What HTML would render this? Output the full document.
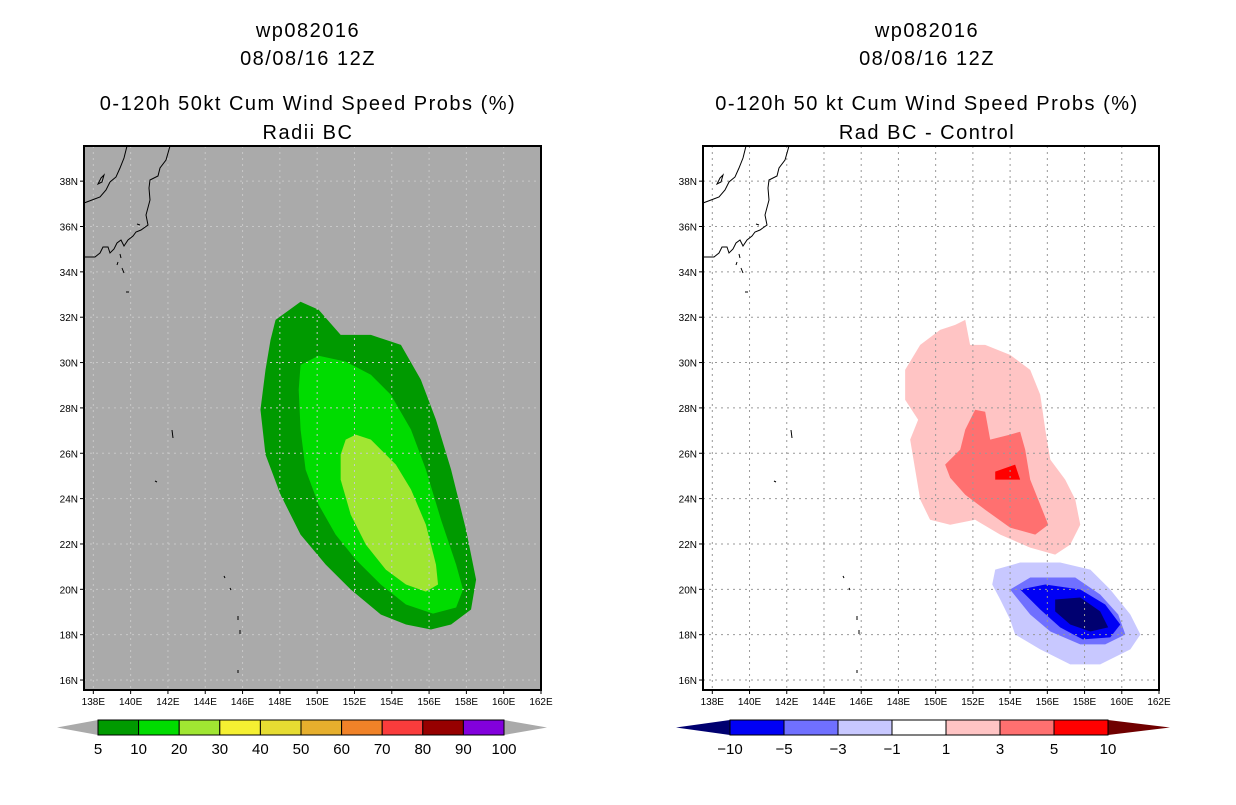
<!DOCTYPE html>
<html><head><meta charset="utf-8"><style>
body{margin:0;background:#fff;width:1236px;height:800px;overflow:hidden;font-family:"Liberation Sans",sans-serif}
svg text{font-family:"Liberation Sans",sans-serif}
</style></head><body>
<svg id="s" width="1236" height="800" xmlns="http://www.w3.org/2000/svg">
<g font-size="20" text-anchor="middle" fill="#000" letter-spacing="1.5">
<text x="308" y="37">wp082016</text>
<text x="308" y="65">08/08/16 12Z</text>
<text x="308" y="110">0-120h 50kt Cum Wind Speed Probs (%)</text>
<text x="308" y="139">Radii BC</text>
<text x="927" y="37">wp082016</text>
<text x="927" y="65">08/08/16 12Z</text>
<text x="927" y="110">0-120h 50 kt Cum Wind Speed Probs (%)</text>
<text x="927" y="139">Rad BC - Control</text>
</g>
</svg>
<script>
const NS='http://www.w3.org/2000/svg';
const svg=document.getElementById('s');
const lonTicks=[138,140,142,144,146,148,150,152,154,156,158,160,162];
const latTicks=[16,18,20,22,24,26,28,30,32,34,36,38];
const lonMin=137.5,lonMax=162,latMin=15.56,latMax=39.55;
const prob5=[[147.77,31.88],[149.11,32.68],[150.08,32.33],[151.26,31.22],[152.88,31.22],[154.49,30.78],[155.56,29.24],[156.37,27.48],[157.18,25.28],[157.98,22.63],[158.52,20.43],[158.25,19.11],[157.18,18.45],[156.1,18.23],[154.76,18.45],[153.41,18.89],[151.8,19.99],[150.46,21.09],[149.11,22.41],[148.04,24.17],[147.23,25.94],[146.96,27.92],[147.23,29.68],[147.5,31.0]];
const prob10=[[149.11,29.9],[150.08,30.3],[151.53,30.04],[152.88,29.46],[153.95,28.58],[155.03,27.04],[155.83,25.28],[156.64,23.07],[157.45,21.09],[157.82,19.99],[157.45,19.2],[156.21,18.93],[154.76,19.33],[153.41,20.21],[152.07,21.31],[150.99,22.41],[150.08,23.73],[149.38,25.28],[149.11,27.04],[149.01,28.8]];
const prob20=[[151.53,26.6],[152.07,26.82],[152.88,26.6],[154.22,25.5],[155.03,24.4],[155.83,22.85],[156.37,21.09],[156.48,20.21],[155.83,19.9],[154.76,20.21],[153.68,20.87],[152.61,21.97],[151.8,23.29],[151.26,24.84],[151.26,25.94]];
const diffP1=[[149.17,30.78],[150.24,31.44],[151.05,31.66],[151.59,31.88],[151.85,30.78],[152.66,30.78],[154.0,30.34],[155.08,29.68],[155.62,28.58],[155.89,27.04],[156.16,25.72],[156.96,24.84],[157.5,23.96],[157.77,22.85],[157.23,21.97],[156.42,21.53],[155.08,21.84],[153.47,22.41],[152.12,23.07],[150.78,22.85],[149.7,23.07],[149.17,23.96],[148.9,25.28],[148.63,26.6],[149.06,27.48],[148.36,28.36],[148.36,29.68]];
const diffP3=[[152.12,27.92],[152.66,27.83],[152.93,26.6],[154.0,26.82],[154.54,26.95],[154.81,26.16],[155.08,24.84],[155.62,23.73],[156.05,22.85],[155.35,22.41],[154.0,22.72],[152.66,23.51],[151.59,24.17],[150.78,24.92],[150.51,25.5],[151.32,26.16],[151.59,27.04]];
const diffP5=[[153.2,25.19],[154.27,25.5],[154.54,24.84],[153.2,24.84]];
const diffM1=[[153.2,20.87],[154.54,21.18],[156.69,21.18],[158.31,20.87],[159.38,19.99],[160.46,18.89],[161.0,18.01],[160.46,17.35],[158.84,16.69],[157.23,16.69],[155.62,17.35],[154.27,18.01],[154.0,18.67],[153.47,19.55],[153.04,20.21]];
const diffM3=[[154.0,19.99],[155.08,20.52],[157.5,20.52],[158.84,19.77],[159.81,18.89],[160.19,18.01],[159.11,17.57],[157.77,17.57],[156.16,18.14],[155.08,18.89]];
const diffM5=[[154.54,19.99],[155.89,20.21],[157.77,19.99],[159.11,19.33],[159.92,18.45],[159.38,17.88],[157.9,17.79],[156.69,18.32],[155.62,19.11]];
const diffM10=[[156.42,19.55],[157.77,19.64],[158.84,19.03],[159.27,18.32],[158.31,18.14],[157.23,18.45],[156.42,19.03]];
const leftLevels=['5','10','20','30','40','50','60','70','80','90','100'];
const leftColors=['#009a00','#00dc00','#a0e632','#f5f032','#e6dc32','#e6af2d','#f08228','#fa3c3c','#960000','#8200dc'];
const rightLevels=['-10','-5','-3','-1','1','3','5','10'];
const rightColors=['#0000f5','#7070ff','#c8c8ff','#ffffff','#ffc4c4','#ff7070','#ff0000'];

function mk(t,a,p){const e=document.createElementNS(NS,t);for(const k in a)e.setAttribute(k,a[k]);(p||svg).appendChild(e);return e;}
function panel(x0,y0,x1,y1,bg){
  const sx=l=>x0+(l-lonMin)/(lonMax-lonMin)*(x1-x0);
  const sy=l=>y1-(l-latMin)/(latMax-latMin)*(y1-y0);
  const g=mk('g',{});
  mk('rect',{x:x0,y:y0,width:x1-x0,height:y1-y0,fill:bg},g);
  return {g,sx,sy,x0,y0,x1,y1};
}
function poly(P,pts,fill,name){
  const e=mk('polygon',{points:pts.map(p=>P.sx(p[0])+','+P.sy(p[1])).join(' '),fill:fill},P.g);
  
  
}
function coast(P){
  const dx=P.x0-84;
  const c=mk('g',{fill:'none',stroke:'#000','stroke-width':1,transform:'translate('+dx+',0)'},P.g);
  
  
  mk('path',{d:'M84,203 L92,200 L100,197 L106,190 L110,182 L116,177 L120,168 L124,158 L127,146'},c);
  mk('path',{d:'M84,257 L95,257 L100,253 L103,247 L108,247 L110,253 L114,249 L117,243 L121,240 L124,246 L128,240 L133,236 L136,232 L141,230 L148,225 L146,215 L150,200 L149,188 L150,180 L158,176 L160,168 L166,160 L170,146'},c);
  mk('path',{d:'M101,178 L104,175 L102,182 L98,184 Z'},c);
  mk('path',{d:'M137,224 L140,225 M120,254 L121,258 M118,262 L117,265 M122,268 L124,273 M126,292 L129,292 M172,430 L173,438 M155,481 L157,482 M224,576 L225,578 M230,588 L231,590 M238,616 L238,620 M240,630 L240,634 M238,670 L238,673'},c);
}
function axes(P){
  const g=mk('g',{'font-size':10,fill:'#000'},P.g);
  lonTicks.forEach(l=>{const x=P.sx(l);
    mk('line',{x1:x,y1:P.y1,x2:x,y2:P.y1+4,stroke:'#000'},g);
    const t=mk('text',{x:x,y:P.y1+15,'text-anchor':'middle'},g);t.textContent=l+'E';
    });
  latTicks.forEach(l=>{const y=P.sy(l);
    mk('line',{x1:P.x0-4,y1:y,x2:P.x0,y2:y,stroke:'#000'},g);
    const t=mk('text',{x:P.x0-6,y:y+4,'text-anchor':'end'},g);t.textContent=l+'N';
    });
  mk('rect',{x:P.x0,y:P.y0,width:P.x1-P.x0,height:P.y1-P.y0,fill:'none',stroke:'#000','stroke-width':2},P.g);
}
function gridlines(P,col){
  const g=mk('g',{stroke:col,'stroke-width':1,'stroke-dasharray':'2,4'},P.g);
  lonTicks.forEach(l=>{if(l<lonMax){const x=P.sx(l);mk('line',{x1:x,y1:P.y0,x2:x,y2:P.y1},g);}});
  latTicks.forEach(l=>{const y=P.sy(l);mk('line',{x1:P.x0,y1:y,x2:P.x1,y2:y},g);});
}
const L=panel(84,146,541,690,'#aaaaaa');

poly(L,prob5,leftColors[0],'contour-5pct');
poly(L,prob10,leftColors[1],'contour-10pct');
poly(L,prob20,leftColors[2],'contour-20pct');
gridlines(L,'#c8c8c8');coast(L);axes(L);
const R=panel(703,146,1159,690,'#ffffff');

poly(R,diffP1,rightColors[4],'contour-plus1');
poly(R,diffP3,rightColors[5],'contour-plus3');
poly(R,diffP5,rightColors[6],'contour-plus5');
poly(R,diffM1,rightColors[2],'contour-minus1');
poly(R,diffM3,rightColors[1],'contour-minus3');
poly(R,diffM5,rightColors[0],'contour-minus5');
poly(R,diffM10,'#000070','contour-minus10');
gridlines(R,'#999');coast(R);axes(R);
function cbar(x0,x1,tipL,tipR,levels,colors,lc,rc,name){
  const g=mk('g',{});
  
  
  const y0=720,y1=735,w=(x1-x0)/colors.length;
  mk('polygon',{points:`${tipL},${(y0+y1)/2} ${x0},${y0} ${x0},${y1}`,fill:lc},g);
  mk('polygon',{points:`${tipR},${(y0+y1)/2} ${x1},${y0} ${x1},${y1}`,fill:rc},g);
  colors.forEach((c,i)=>{const r=mk('rect',{x:x0+i*w,y:y0,width:w,height:y1-y0,fill:c,stroke:'#000','stroke-width':1},g);
    
    });
  levels.forEach((lv,i)=>{const t=mk('text',{x:x0+i*w,y:754,'text-anchor':'middle','font-size':15,fill:'#000'},g);t.textContent=lv.replace('-','\u2212');
    
    });
}
cbar(98,504,57,547,leftLevels,leftColors,'#aaaaaa','#aaaaaa','left-colorbar');
cbar(730,1108,676,1170,rightLevels,rightColors,'#000070','#700000','right-colorbar');
</script>
</body></html>
